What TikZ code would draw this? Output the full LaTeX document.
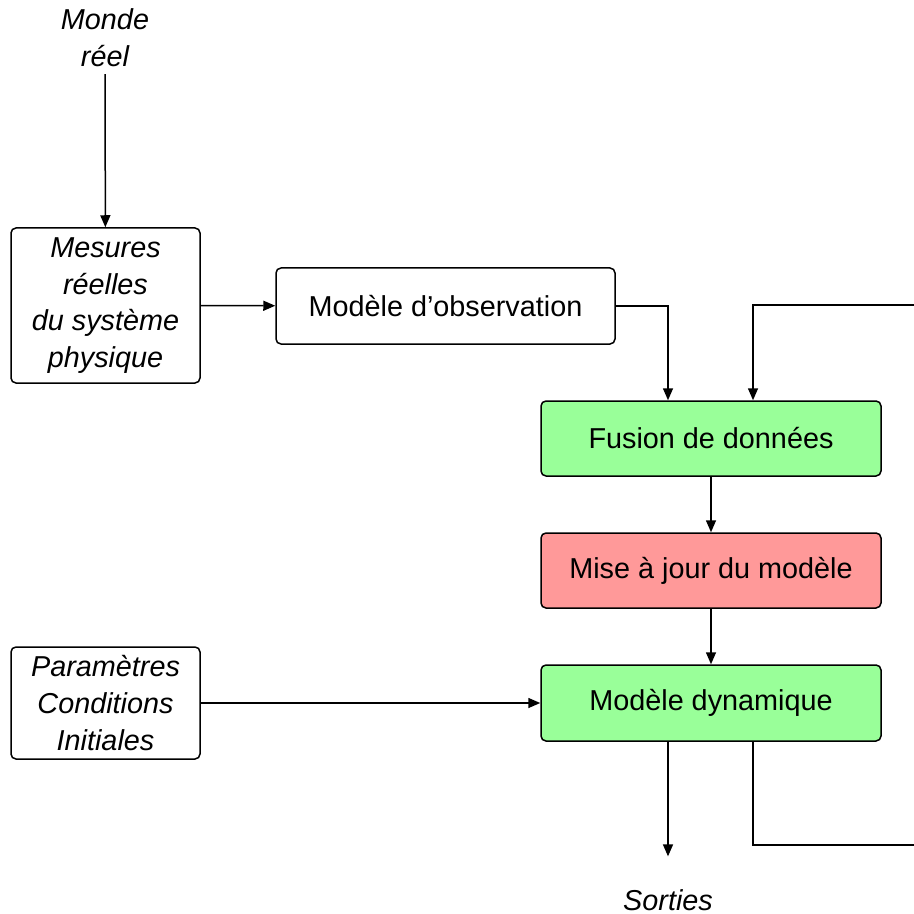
\documentclass[tikz,border=0pt]{standalone}
\usepackage{fontspec}
\setmainfont{Liberation Sans}
\usetikzlibrary{arrows.meta}
\definecolor{vertclair}{RGB}{153,255,153}
\definecolor{rougeclair}{RGB}{255,153,153}

\begin{document}
\begin{tikzpicture}[x=0.5pt, y=-0.5pt, >={Triangle[length=6pt, width=5pt]},
    font=\fontsize{14.4}{18.4}\selectfont,
    bloc/.style={draw, line width=0.75pt, rounded corners=2.5pt, align=center, inner sep=0pt},
    texte/.style={align=center, font=\fontsize{14.4}{18.4}\selectfont\itshape},
    fleche/.style={->, line width=0.75pt}]
    \useasboundingbox (0,0) rectangle (914,914);

    % entrees a gauche
    \node[texte] (monde) at (105,38) {Monde\\réel};
    \node[bloc, texte, minimum width=94.5pt, minimum height=77.5pt] (mesures) at (105.5,305.5)
        {Mesures\\réelles\\du système\\physique};
    \node[bloc, texte, minimum width=94.5pt, minimum height=56pt] (param) at (105.5,703)
        {Paramètres\\Conditions\\Initiales};

    % chaine principale
    \node[bloc, minimum width=169.5pt, minimum height=38pt] (obs) at (445.5,306) {Modèle d’observation};
    \node[bloc, fill=vertclair, minimum width=170pt, minimum height=37.5pt] (fusion) at (711,438.5) {Fusion de données};
    \node[bloc, fill=rougeclair, minimum width=170pt, minimum height=37.5pt] (maj) at (711,570.5) {Mise à jour du modèle};
    \node[bloc, fill=vertclair, minimum width=170pt, minimum height=38pt] (dyn) at (711,703) {Modèle dynamique};
    \node[texte] (sorties) at (668,900) {Sorties};

    \coordinate (B) at (753,845);
    \coordinate (H) at (753,305);

    \draw[fleche] (monde) -- (mesures);
    \draw[fleche] (mesures) -- (obs);
    \draw[fleche] (obs.east) -| (fusion.north -| sorties);
    \draw[fleche] (fusion) -- (maj);
    \draw[fleche] (maj) -- (dyn);
    \draw[fleche] (param) -- (dyn);
    \draw[fleche, shorten >=13pt] (dyn.south -| sorties) -- (sorties);

    % boucle de retour
    \draw[line width=0.75pt] (dyn.south -| B) -- (B) -- ++(163,0);
    \draw[fleche] (H) ++(163,0) -- (H) -- (fusion.north -| H);
\end{tikzpicture}
\end{document}
